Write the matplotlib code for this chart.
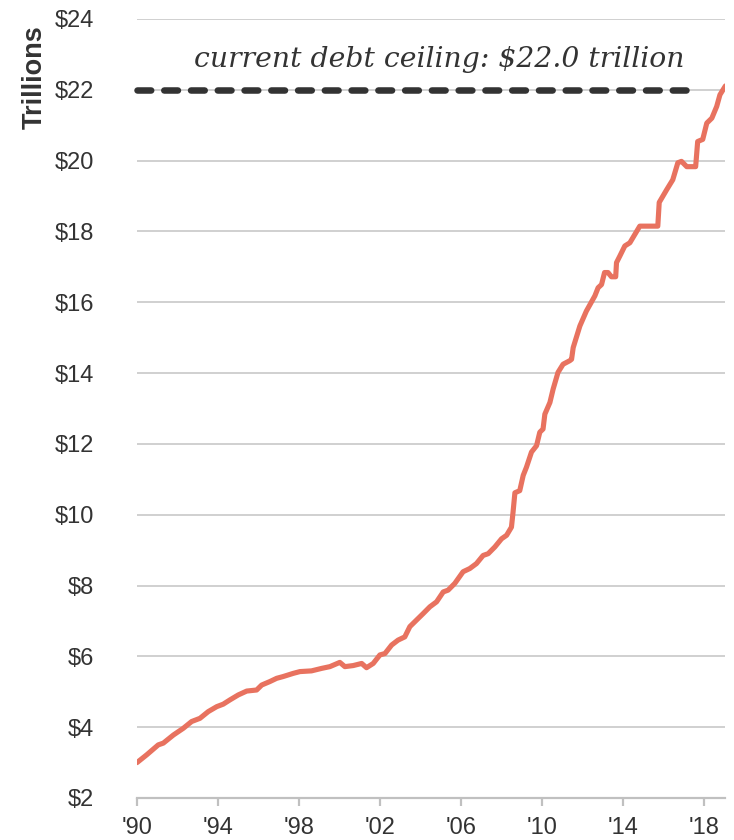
import numpy as np
import matplotlib.pyplot as plt

# total public debt outstanding, trillions of dollars
years = [1990.0, 1990.48, 1991.05, 1991.3, 1991.8, 1992.29, 1992.7, 1993.11, 1993.52,
         1993.94, 1994.26, 1994.59, 1995.0, 1995.42, 1995.91, 1996.16, 1996.57, 1996.9,
         1997.22, 1997.72, 1998.05, 1998.62, 1999.12, 1999.53, 2000.02, 2000.27, 2000.68,
         2001.1, 2001.34, 2001.67, 2002.0, 2002.25, 2002.58, 2002.9, 2003.23, 2003.48,
         2003.89, 2004.14, 2004.47, 2004.8, 2005.13, 2005.37, 2005.7, 2006.11, 2006.44,
         2006.77, 2007.1, 2007.35, 2007.68, 2008.01, 2008.26, 2008.5, 2008.58, 2008.67,
         2008.91, 2009.08, 2009.24, 2009.49, 2009.74, 2009.9, 2010.06, 2010.15, 2010.4,
         2010.56, 2010.8, 2011.05, 2011.38, 2011.47, 2011.55, 2011.88, 2012.2, 2012.62,
         2012.78, 2012.95, 2013.1, 2013.27, 2013.44, 2013.65, 2013.69, 2013.85, 2014.1,
         2014.35, 2014.84, 2015.73, 2015.8, 2016.17, 2016.47, 2016.72, 2016.9, 2017.16,
         2017.6, 2017.7, 2017.95, 2018.15, 2018.4, 2018.64, 2018.8, 2019.07]
debt = [3.00, 3.22, 3.50, 3.55, 3.78, 3.97, 4.16, 4.25, 4.44,
        4.58, 4.65, 4.77, 4.91, 5.02, 5.05, 5.19, 5.29, 5.38,
        5.43, 5.52, 5.57, 5.59, 5.66, 5.71, 5.83, 5.71, 5.74,
        5.80, 5.68, 5.80, 6.04, 6.08, 6.32, 6.46, 6.55, 6.84,
        7.07, 7.21, 7.40, 7.54, 7.82, 7.87, 8.06, 8.39, 8.48,
        8.62, 8.85, 8.90, 9.09, 9.32, 9.42, 9.65, 10.08, 10.62,
        10.68, 11.11, 11.34, 11.77, 11.95, 12.33, 12.42, 12.84, 13.17,
        13.55, 14.02, 14.25, 14.35, 14.39, 14.72, 15.33, 15.75, 16.18,
        16.41, 16.50, 16.84, 16.84, 16.72, 16.72, 17.12, 17.30, 17.59,
        17.68, 18.15, 18.15, 18.82, 19.18, 19.46, 19.94, 19.98, 19.83,
        19.83, 20.54, 20.60, 21.06, 21.20, 21.53, 21.86, 22.11]

ceiling = 22.0
ceiling_span = [1990.0, 2017.3]
tick_years = [1990, 1994, 1998, 2002, 2006, 2010, 2014, 2018]
tick_labels = ["'90", "'94", "'98", "'02", "'06", "'10", "'14", "'18"]
y_ticks = list(range(2, 25, 2))

txt = '#333333'
plt.rcParams['font.family'] = ['Liberation Sans', 'DejaVu Sans']

fig = plt.figure(figsize=(7.34, 8.4), dpi=100)
ax = fig.add_axes([137 / 734, 42 / 840, 588 / 734, 779 / 840])

ax.plot(years, debt, color='#E8725F', lw=3.7, solid_capstyle='round',
        solid_joinstyle='round', zorder=3)
ax.plot(ceiling_span, [ceiling, ceiling], color='#333333', lw=4.7,
        dashes=(2.1, 2.0), dash_capstyle='round', clip_on=False, zorder=4)
ax.text(2004.94, 22.85, 'current debt ceiling: $22.0 trillion', ha='center',
        va='center', fontsize=20.3, style='italic', family='DejaVu Serif', color='#333333')

ax.set_xlim(1990, 2019.05)
ax.set_ylim(2, 24)
ax.set_yticks(y_ticks)
ax.set_yticklabels([f'${v}' for v in y_ticks])
ax.set_xticks(tick_years)
ax.set_xticklabels(tick_labels)
ax.grid(axis='y', color='#c8c8c8', lw=1.2)
ax.set_axisbelow(True)
for s in ['left', 'right', 'top']:
    ax.spines[s].set_visible(False)
ax.spines['bottom'].set_color('#c0c0c0')
ax.spines['bottom'].set_linewidth(1.6)
ax.tick_params(axis='y', length=0, pad=31, labelsize=17, labelcolor=txt)
ax.tick_params(axis='x', length=6, width=1.6, color='#c0c0c0', pad=8,
               labelsize=17, labelcolor=txt)

fig.text(35 / 734, 1 - 77 / 840, 'Trillions', rotation=90, ha='center', va='center',
         fontsize=19.5, fontweight='bold', color=txt)

fig.savefig('out.png', dpi=100)
